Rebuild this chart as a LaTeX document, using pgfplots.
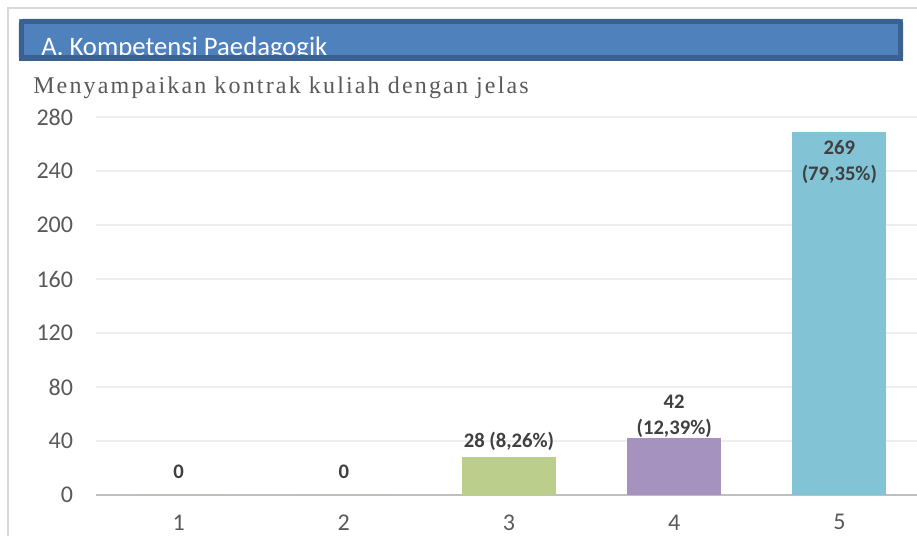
\documentclass[border=0pt]{standalone}
\usepackage{pgfplots}
\pgfplotsset{compat=1.18}
\usepackage{fontspec}
\usepackage{graphicx}
\setmainfont{Carlito}
\newfontfamily\subfont[LetterSpace=9]{Liberation Serif}
\definecolor{hdr}{HTML}{4F81BD}
\definecolor{hdrdark}{HTML}{3A6190}
\definecolor{framec}{HTML}{D9D9D9}
\definecolor{gridc}{HTML}{EEEEEE}
\definecolor{axisc}{HTML}{BFBFBF}
\definecolor{tickc}{HTML}{595959}
\definecolor{labc}{HTML}{404040}
\definecolor{subc}{HTML}{595959}
\definecolor{barg}{HTML}{BBCE8C}
\definecolor{barp}{HTML}{A692BE}
\definecolor{barc}{HTML}{82C3D6}
\begin{document}
\begin{tikzpicture}[x=0.75pt,y=0.75pt]
\begin{axis}[
 scale only axis, width=615.75pt, height=283.5pt,
 xmin=0.5, xmax=5.47, ymin=0, ymax=280,
 ytick={0,40,...,280}, xtick={1,2,3,4,5},
 ymajorgrids, major grid style={gridc, line width=1.5pt},
 axis line style={draw=none},
 major tick length=0pt,
 /pgf/number format/assume math mode=true,
 ticklabel style={font=\fontsize{18pt}{20pt}\selectfont, text=tickc, inner sep=0pt},
 yticklabel style={anchor=east, xshift=-17pt},
 xticklabel style={anchor=center, yshift=-20.5pt},
 extra y ticks={0}, extra y tick labels={},
 extra y tick style={grid=major, major grid style={axisc, line width=2pt}},
 ybar, bar width=70.5pt, bar shift=0pt,
 clip=false,
 nodes near coords style={font=\bfseries\fontsize{15.5pt}{19.5pt}\selectfont, text=labc, align=center, anchor=center, inner sep=0pt},
]
\addplot[fill=barg, draw=none, nodes near coords={0}, every node near coord/.append style={yshift=17.25pt}] coordinates {(1,0)};
\addplot[fill=barg, draw=none, nodes near coords={0}, every node near coord/.append style={yshift=17.25pt}] coordinates {(2,0)};
\addplot[fill=barg, draw=none, nodes near coords={28 (8,26\%)}, every node near coord/.append style={yshift=12pt}] coordinates {(3,28)};
\addplot[fill=barp, draw=none, nodes near coords={42\\(12,39\%)}, every node near coord/.append style={yshift=16.5pt}] coordinates {(4,42)};
\addplot[fill=barc, draw=none, nodes near coords={269\\(79,35\%)}, every node near coord/.append style={yshift=-22.5pt}] coordinates {(5,269)};
\coordinate (O) at (axis cs:0.5,0);
\end{axis}
\begin{scope}[shift={(O)}, shift={(-96,-41)}]
\pgfresetboundingbox
\useasboundingbox (0,0) rectangle (917,536);
\draw[framec, line width=1.5pt] (8,0) -- (8,528) -- (917,528);
\fill[hdr] (19,517) rectangle (903,475);
\node[anchor=base west, text=white, font=\fontsize{20pt}{22pt}\selectfont, inner sep=0pt] at (41,480) {A. Kompetensi Paedagogik};
\draw[hdrdark, line width=3.75pt, rounded corners=1.5pt] (21.5,514.5) rectangle (900.5,477.5);
\fill[hdrdark] (19,475) rectangle (903,481);
\node[anchor=base west, inner sep=0pt, text=subc] at (33,442) {\subfont\fontsize{18pt}{20pt}\selectfont Menyampaikan kontrak kuliah dengan jelas};
\end{scope}
\end{tikzpicture}
\end{document}
